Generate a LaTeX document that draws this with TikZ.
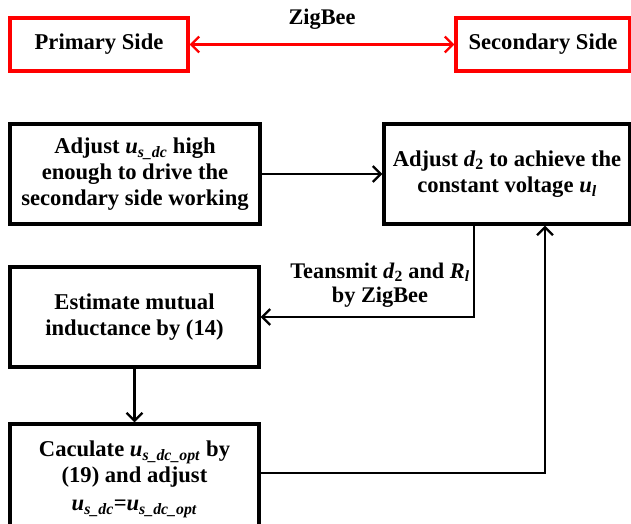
\documentclass[tikz,border=0pt]{standalone}
\usepackage{fontspec}
\setmainfont{Liberation Serif}
\usetikzlibrary{arrows.meta}
\newcommand\sbs[1]{\textsubscript{\textit{#1}}}
\tikzset{
  barbtip/.tip={Straight Barb[length=8pt,width=16pt,line width=2.3pt]},
  box/.style={draw=black, line width=3.2pt, rectangle, inner sep=0pt, align=center,
    font=\fontsize{22.6}{26}\selectfont\bfseries},
  redbox/.style={box, draw=red},
  conn/.style={line width=2.3pt, -barbtip},
  lbl/.style={align=center, font=\fontsize{22.3}{24}\selectfont\bfseries, inner sep=0pt}
}
\begin{document}
\begin{tikzpicture}[x=1pt,y=-1pt]
\useasboundingbox (0,0) rectangle (631,523);
\node[redbox, minimum width=178pt, minimum height=53pt] (prim) at (99,44.5) {Primary Side};
\node[redbox, minimum width=174pt, minimum height=53pt] (sec) at (543,44.5) {Secondary Side};
\draw[red, line width=2.3pt, barbtip-barbtip] (prim) -- node[lbl, text=black, above=14pt] (zb) {ZigBee} (sec);

\node[box, minimum width=250pt, minimum height=100pt] (a) at (135,174) {Adjust \textit{u}\sbs{s\_dc} high\\enough to drive the\\secondary side working};
\node[box, minimum width=246pt, minimum height=100pt] (b) at (507,174) {Adjust \textit{d}\textsubscript{2} to achieve the\\constant voltage \textit{u}\sbs{l}};
\node[box, minimum width=249pt, minimum height=100pt] (c) at (134.5,317) {Estimate mutual\\inductance by (14)};
\node[box, minimum width=249pt, minimum height=111pt] (d) at (134.5,479.5) {Caculate \textit{u}\sbs{s\_dc\_opt} by\\(19) and adjust\\[2pt]\textit{u}\sbs{s\_dc}=\textit{u}\sbs{s\_dc\_opt}};

\coordinate (k1) at (474,317);
\coordinate (k2) at (545,473);
\draw[conn] (a) -- (b);
\draw[conn] (b.south -| k1) -- (k1) -- (c.east);
\node[lbl] (tx) at (380,285) {Teansmit \textit{d}\textsubscript{2} and \textit{R}\sbs{l}\\by ZigBee};
\draw[conn] (c) -- (d);
\draw[conn] (d.east |- k2) -- (k2) -- (b.south -| k2);
\end{tikzpicture}
\end{document}
